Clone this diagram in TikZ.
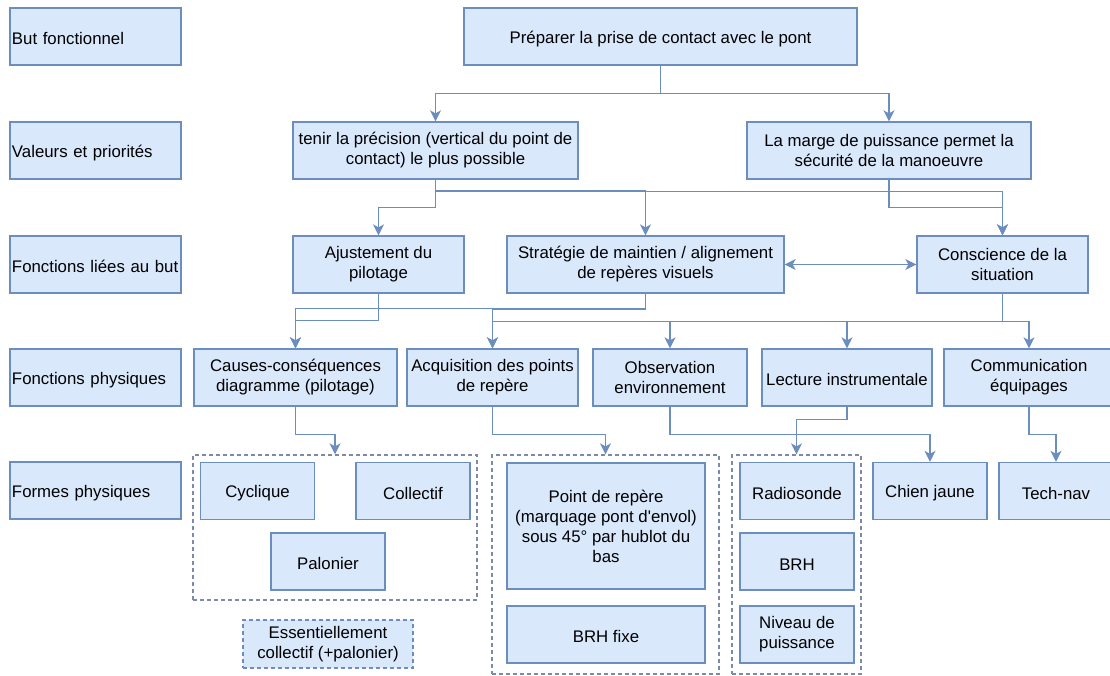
\documentclass[tikz,border=0pt]{standalone}
\usepackage{fontspec}
\newfontfamily\lsans{Liberation Sans}
\usetikzlibrary{arrows.meta}
\definecolor{bfill}{HTML}{DAE8FC}
\definecolor{bdraw}{HTML}{6C8EBF}
\definecolor{gdash}{HTML}{7A8AA8}
\begin{document}
\begin{tikzpicture}[x=1pt,y=-1pt,
  box/.style={draw=bdraw, fill=bfill, line width=1.3pt, inner sep=0pt, align=center,
    font=\lsans\fontsize{16.8}{20}\selectfont, execute at begin node={\rule{0pt}{17pt}}},
  lbl/.style={box, align=left, text width=167pt, inner xsep=2pt, minimum height=57pt},
  grp/.style={draw=gdash, line width=1.3pt, dash pattern=on 4pt off 3pt, inner sep=0pt},
  tip/.tip={Stealth[length=11pt,width=11pt,inset=3pt]},
  arr/.style={draw=bdraw, line width=1.5pt, -tip},
  barr/.style={draw=bdraw, line width=1.5pt, tip-tip},
]
\useasboundingbox (0,0) rectangle (1110,675);

% left labels
\node[lbl] (l1) at (95.5,36.5) {But fonctionnel};
\node[lbl] (l2) at (95.5,150.5) {Valeurs et priorités};
\node[lbl] (l3) at (95.5,264.5) {Fonctions liées au but};
\node[lbl] (l4) at (95.5,377.5) {Fonctions physiques};
\node[lbl] (l5) at (95.5,490.5) {Formes physiques};

% groups
\node[grp, minimum width=284pt, minimum height=145pt] (g1) at (335,527.5) {};
\node[grp, minimum width=227pt, minimum height=219pt] (g2) at (605.5,564.5) {};
\node[grp, minimum width=129pt, minimum height=219pt] (g3) at (796.5,564.5) {};

% level 1
\node[box, minimum width=393pt, minimum height=57pt] (top) at (660.5,36.5) {Préparer la prise de contact avec le pont};
% level 2
\node[box, minimum width=285pt, minimum height=57pt] (tenir) at (435.5,150.5) {tenir la précision (vertical du point de\\contact) le plus possible};
\node[box, minimum width=284pt, minimum height=57pt] (marge) at (889,150.5) {La marge de puissance permet la\\sécurité de la manoeuvre};
% level 3
\node[box, minimum width=171pt, minimum height=57pt] (ajust) at (378.5,264.5) {Ajustement du\\pilotage};
\node[box, minimum width=277pt, minimum height=57pt] (strat) at (645.5,264.5) {Stratégie de maintien / alignement\\de repères visuels};
\node[box, minimum width=171pt, minimum height=57pt] (consc) at (1002.5,264.5) {Conscience de la\\situation};
% level 4
\node[box, minimum width=203pt, minimum height=57pt] (causes) at (295.5,377.5) {Causes-conséquences\\diagramme (pilotage)};
\node[box, minimum width=171pt, minimum height=57pt] (acq) at (492.5,377.5) {Acquisition des points\\de repère};
\node[box, minimum width=154pt, minimum height=57pt] (obs) at (670,377.5) {Observation\\environnement};
\node[box, minimum width=170pt, minimum height=57pt] (lect) at (847,377.5) {Lecture instrumentale};
\node[box, minimum width=170pt, minimum height=57pt] (comm) at (1029,377.5) {Communication\\équipages};
% level 5
\node[box, minimum width=114pt, minimum height=57pt] (cyc) at (257.5,491) {Cyclique};
\node[box, minimum width=114pt, minimum height=57pt] (coll) at (413,491) {Collectif};
\node[box, minimum width=114pt, minimum height=57pt] (palon) at (328,561.5) {Palonier};
\node[box, dash pattern=on 4pt off 3pt, minimum width=170pt, minimum height=48pt] (ess) at (328,644) {Essentiellement\\collectif (+palonier)};
\node[box, minimum width=198pt, minimum height=126pt] (point) at (606,526) {Point de repère\\(marquage pont d'envol)\\sous 45° par hublot du\\bas};
\node[box, minimum width=198pt, minimum height=57pt] (brhf) at (606,634.5) {BRH fixe};
\node[box, minimum width=114pt, minimum height=57pt] (radio) at (797,491) {Radiosonde};
\node[box, minimum width=114pt, minimum height=57pt] (brh) at (797,561.5) {BRH};
\node[box, minimum width=114pt, minimum height=57pt] (niv) at (797,634.5) {Niveau de\\puissance};
\node[box, minimum width=114pt, minimum height=57pt] (chien) at (930,491) {Chien jaune};
\node[box, minimum width=114pt, minimum height=57pt] (tech) at (1056,491) {Tech-nav};

% connectors
\draw[arr] (top.south) -- ++(0,28) -| (tenir.north);
\draw[arr] (top.south) -- ++(0,28) -| (marge.north);
\draw[arr] (tenir.south) -- ++(0,28) -| (ajust.north);
\draw[arr] (tenir.south) -- ++(0,11) -| (strat.north);
\draw[arr] (tenir.south) -- ++(0,12) -| (consc.north);
\draw[arr] (marge.south) -- ++(0,28) -| (consc.north);
\draw[barr] (strat.east) -- (consc.west);
\draw[arr] (ajust.south) -- ++(0,27) -| (causes.north);
\draw[arr] (strat.south) -- ++(0,15) -| (causes.north);
\draw[arr] (strat.south) -- ++(0,16) -| (acq.north);
\draw[arr] (consc.south) -- ++(0,28) -| (acq.north);
\draw[arr] (consc.south) -- ++(0,28) -| (obs.north);
\draw[arr] (consc.south) -- ++(0,28) -| (lect.north);
\draw[arr] (consc.south) -- ++(0,28) -| (comm.north);
\draw[arr] (causes.south) -- ++(0,28) -| (g1.north);
\draw[arr] (acq.south) -- ++(0,28) -| (g2.north);
\draw[arr] (obs.south) -- ++(0,28) -| (chien.north);
\draw[arr] (lect.south) -- ++(0,13) -| (g3.north);
\draw[arr] (comm.south) -- ++(0,28) -| (tech.north);
\end{tikzpicture}
\end{document}
